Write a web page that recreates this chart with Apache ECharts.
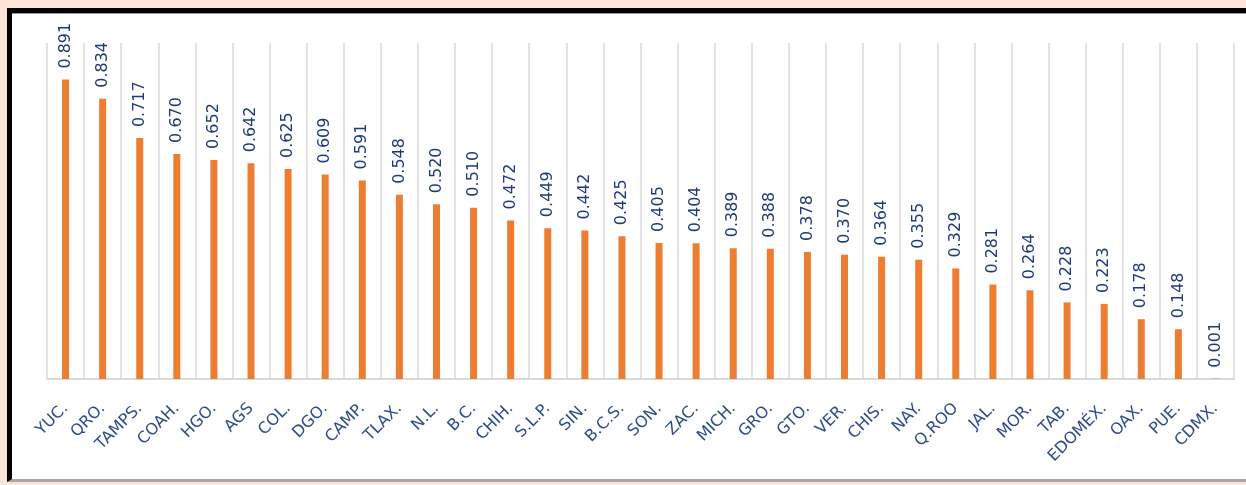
<!DOCTYPE html>
<html>
<head>
<meta charset="utf-8">
<script src="https://cdn.jsdelivr.net/npm/echarts@6/dist/echarts.min.js"></script>
<style>
  html, body { margin: 0; padding: 0; }
  body { width: 1246px; height: 485px; background: #fce4d6; position: relative; overflow: hidden; }
  #frame { position: absolute; left: 7px; top: 8px; width: 1260px; height: 466px;
           background: #ffffff; border-left: 5px solid #000; border-top: 5px solid #000;
           border-bottom: 3px solid #a6a6a6; box-shadow: inset 0 1px 0 #9a9a9a; }
  #chart { position: absolute; left: 0; top: 0; width: 1246px; height: 485px; }
</style>
</head>
<body>
<div id="frame"></div>
<div id="chart"></div>
<script>
const categories = ["YUC.", "QRO.", "TAMPS.", "COAH.", "HGO.", "AGS", "COL.", "DGO.", "CAMP.", "TLAX.",
  "N.L.", "B.C.", "CHIH.", "S.L.P.", "SIN.", "B.C.S.", "SON.", "ZAC.", "MICH.", "GRO.",
  "GTO.", "VER.", "CHIS.", "NAY.", "Q.ROO", "JAL.", "MOR.", "TAB.", "EDOMÉX.", "OAX.", "PUE.", "CDMX."];
const values = [0.891, 0.834, 0.717, 0.670, 0.652, 0.642, 0.625, 0.609, 0.591, 0.548,
  0.520, 0.510, 0.472, 0.449, 0.442, 0.425, 0.405, 0.404, 0.389, 0.388,
  0.378, 0.370, 0.364, 0.355, 0.329, 0.281, 0.264, 0.228, 0.223, 0.178, 0.148, 0.001];

const chart = echarts.init(document.getElementById('chart'), null, { renderer: 'canvas' });
chart.setOption({
  backgroundColor: 'transparent',
  animation: false,
  grid: { left: 47, right: 12, top: 43, bottom: 106 },
  xAxis: {
    type: 'category',
    data: categories,
    boundaryGap: true,
    axisLine: { show: true, lineStyle: { color: '#d9d9d9', width: 2 } },
    axisTick: { show: false },
    splitLine: { show: true, interval: 0, lineStyle: { color: '#e3e3e3', width: 2 } },
    axisLabel: {
      interval: 0, rotate: 45, margin: 27,
      color: '#2f4c8a', fontFamily: 'DejaVu Sans', fontSize: 16
    }
  },
  yAxis: {
    type: 'value', min: 0, max: 1, show: false,
    splitLine: { show: false }
  },
  series: [{
    type: 'bar',
    data: values,
    barWidth: 7,
    itemStyle: { color: '#ed7d31' },
    label: {
      show: true, position: 'top', rotate: 90, align: 'left', verticalAlign: 'middle',
      distance: 11,
      formatter: p => p.value.toFixed(3),
      color: '#1f3a78', fontFamily: 'DejaVu Sans', fontSize: 16
    },
    labelLayout: { rotate: 90 }
  }]
});
</script>
</body>
</html>
